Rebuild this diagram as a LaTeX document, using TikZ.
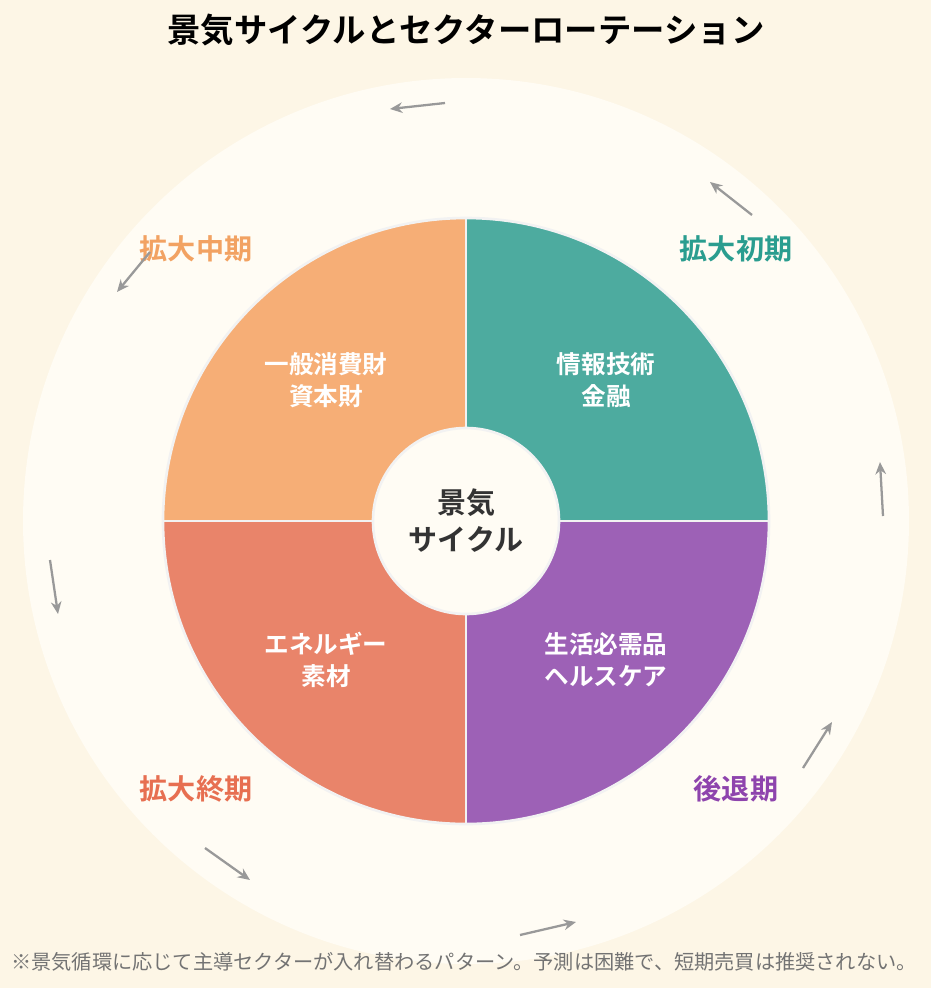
\documentclass[tikz,border=0pt]{standalone}
\usepackage{fontspec}
\newfontfamily\cjk{Noto Sans CJK JP}
\newfontfamily\cjkb{Noto Sans CJK JP Bold}
\usetikzlibrary{arrows.meta,positioning}
\definecolor{bgc}{HTML}{FDF6E6}
\definecolor{ringc}{HTML}{FFFCF4}
\definecolor{midc}{HTML}{F6AE76}
\definecolor{earlyc}{HTML}{4DAB9F}
\definecolor{recc}{HTML}{9D61B6}
\definecolor{latec}{HTML}{E9846A}
\definecolor{midt}{HTML}{F2A262}
\definecolor{earlyt}{HTML}{2A9D8F}
\definecolor{rect}{HTML}{8E44AD}
\definecolor{latet}{HTML}{E76F51}
\tikzset{
  sector/.style={draw=white!90!gray,line width=1.5pt},
  sectext/.style={font=\cjkb\fontsize{14}{18}\selectfont,text=white,align=center},
  phase/.style={font=\cjkb\fontsize{16}{20}\selectfont},
  flow/.style={-{Stealth[length=7pt,width=6pt]},draw=gray!80,line width=1.3pt}
}
\begin{document}
\begin{tikzpicture}[x=0.02cm,y=-0.02cm]
\fill[bgc] (0,0) rectangle (931,988);
\useasboundingbox (0,0) rectangle (931,988);
\fill[ringc] (466,521) circle (443);
\coordinate (O) at (466,521);
\fill[midc] (O) -- (163,521) arc (180:270:303) -- cycle;
\fill[earlyc] (O) -- (466,218) arc (270:360:303) -- cycle;
\fill[recc] (O) -- (769,521) arc (0:90:303) -- cycle;
\fill[latec] (O) -- (466,824) arc (90:180:303) -- cycle;
\draw[sector] (O) circle (303);
\draw[sector] (163,521) -- (769,521) (466,218) -- (466,824);
\node[circle,fill=ringc,draw=white!90!gray,line width=1.5pt,minimum size=186*0.02cm,
  font=\cjkb\fontsize{16.5}{21}\selectfont,align=center,text=black!80] (core) at (O) {景気\\サイクル};
\node[sectext] (midsec) at (326,380) {一般消費財\\資本財};
\node[sectext] (earlysec) at (606,380) {情報技術\\金融};
\node[sectext] (recsec) at (606,660) {生活必需品\\ヘルスケア};
\node[sectext] (latesec) at (326,660) {エネルギー\\素材};
\node[phase,text=midt] (mid) at (196,249) {拡大中期};
\node[phase,text=earlyt] (early) at (736,249) {拡大初期};
\node[phase,text=rect] (rec) at (736,789) {後退期};
\node[phase,text=latet] (late) at (196,789) {拡大終期};
\node[font=\cjkb\fontsize{19}{23}\selectfont] (title) at (466,30) {景気サイクルとセクターローテーション};
\node[font=\cjk\fontsize{11.5}{14}\selectfont,text=gray!90!black] (note) at (464,962)
  {※景気循環に応じて主導セクターが入れ替わるパターン。予測は困難で、短期売買は推奨されない。};
\foreach \n/\a/\b in {1/{445,103}/{390,109},2/{752,215}/{710,182},3/{150,252}/{117,292},
  4/{883,516}/{880,462},5/{50,560}/{58,614},6/{803,768}/{832,722},7/{205,848}/{250,880},8/{520,935}/{576,922}}{
  \coordinate (s\n) at (\a);
  \coordinate (t\n) at (\b);
  \draw[flow] (s\n) -- (t\n);
}
\end{tikzpicture}
\end{document}
